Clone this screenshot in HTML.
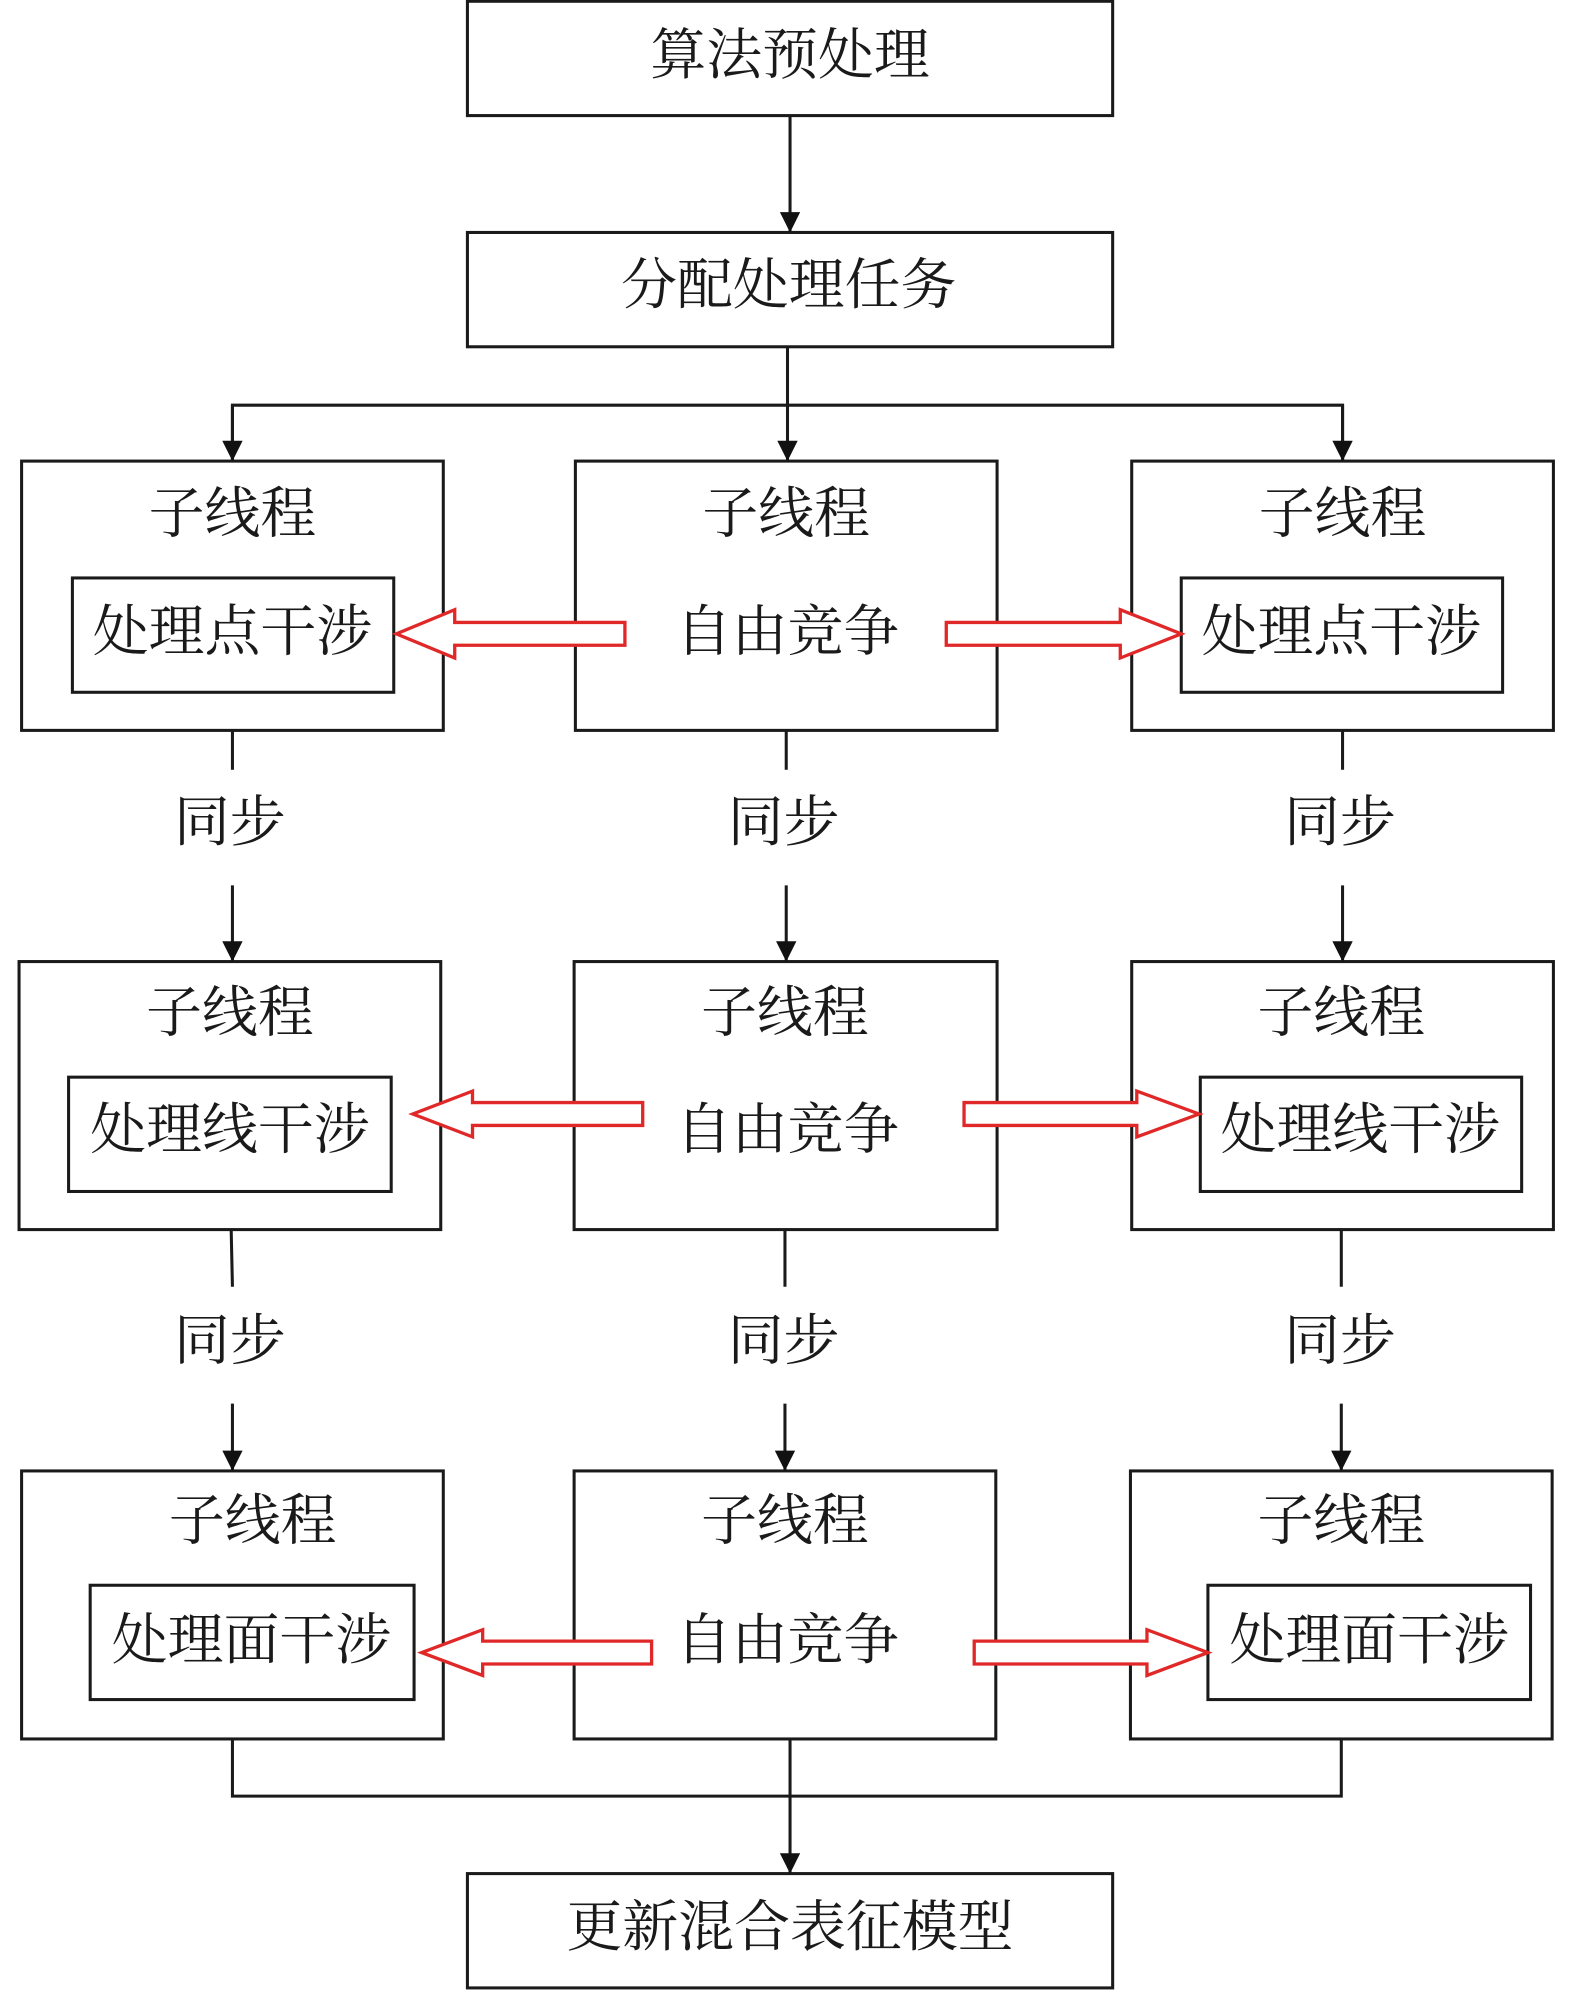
<!DOCTYPE html>
<html><head><meta charset="utf-8"><style>
html,body{margin:0;padding:0;background:#fff;}
svg{display:block;}
text{font-family:"Liberation Serif","Noto Serif CJK SC",serif;font-size:44px;fill:#1a1a1a;text-anchor:middle;dominant-baseline:central;}
</style></head><body>
<svg width="1575" height="1993" viewBox="0 0 1240 1569" preserveAspectRatio="none" xmlns="http://www.w3.org/2000/svg">
<defs><marker id="a" viewBox="0 0 10 10" refX="10" refY="5" markerWidth="28" markerHeight="16" markerUnits="userSpaceOnUse" orient="auto"><path d="M0,0L10,5L0,10z" fill="#111"/></marker></defs>
<g fill="none" stroke="#1a1a1a" stroke-width="2.4">
<rect x="368" y="1" width="508" height="90"/>
<rect x="368" y="183" width="508" height="90"/>
<rect x="17" y="363" width="332" height="212"/>
<rect x="453" y="363" width="332" height="212"/>
<rect x="891" y="363" width="332" height="212"/>
<rect x="57" y="455" width="253" height="90"/>
<rect x="930" y="455" width="253" height="90"/>
<rect x="15" y="757" width="332" height="211"/>
<rect x="452" y="757" width="333" height="211"/>
<rect x="891" y="757" width="332" height="211"/>
<rect x="54" y="848" width="254" height="90"/>
<rect x="945" y="848" width="253" height="90"/>
<rect x="17" y="1158" width="332" height="211"/>
<rect x="452" y="1158" width="332" height="211"/>
<rect x="890" y="1158" width="332" height="211"/>
<rect x="71" y="1248" width="255" height="90"/>
<rect x="951" y="1248" width="254" height="90"/>
<rect x="368" y="1475" width="508" height="90"/>
<line x1="622" y1="91" x2="622" y2="183" marker-end="url(#a)"/>
<line x1="620" y1="273" x2="620" y2="319"/>
<polyline points="183,363 183,319 1057,319 1057,363" fill="none"/>
<line x1="183" y1="319" x2="183" y2="363" marker-end="url(#a)"/>
<line x1="620" y1="319" x2="620" y2="363" marker-end="url(#a)"/>
<line x1="1057" y1="319" x2="1057" y2="363" marker-end="url(#a)"/>
<line x1="183" y1="575" x2="183" y2="606"/><line x1="183" y1="697" x2="183" y2="757" marker-end="url(#a)"/>
<line x1="619" y1="575" x2="619" y2="606"/><line x1="619" y1="697" x2="619" y2="757" marker-end="url(#a)"/>
<line x1="1057" y1="575" x2="1057" y2="606"/><line x1="1057" y1="697" x2="1057" y2="757" marker-end="url(#a)"/>
<line x1="182" y1="968" x2="183" y2="1013"/><line x1="183" y1="1105" x2="183" y2="1158" marker-end="url(#a)"/>
<line x1="618" y1="968" x2="618" y2="1013"/><line x1="618" y1="1105" x2="618" y2="1158" marker-end="url(#a)"/>
<line x1="1056" y1="968" x2="1056" y2="1013"/><line x1="1056" y1="1105" x2="1056" y2="1158" marker-end="url(#a)"/>
<polyline points="183,1369 183,1414 1056,1414 1056,1369"/>
<line x1="622" y1="1369" x2="622" y2="1475" marker-end="url(#a)"/>
</g>
<g fill="#fff" stroke="#e02828" stroke-width="2.6">
<polygon points="492,490 358,490 358,480 312,499 358,518 358,508 492,508"/>
<polygon points="745,490 882,490 882,480 930,499 882,518 882,508 745,508"/>
<polygon points="506,868 372,868 372,859 325,877 372,895 372,886 506,886"/>
<polygon points="759,868 895,868 895,859 944,877 895,895 895,886 759,886"/>
<polygon points="513,1292 380,1292 380,1283 332,1301 380,1319 380,1310 513,1310"/>
<polygon points="767,1292 903,1292 903,1283 951,1301 903,1319 903,1310 767,1310"/>
</g>
<text x="622" y="44">算法预处理</text>
<text x="621" y="225">分配处理任务</text>
<text x="183" y="405">子线程</text><text x="619" y="405">子线程</text><text x="1057" y="405">子线程</text>
<text x="183" y="498">处理点干涉</text><text x="620" y="498">自由竞争</text><text x="1056" y="498">处理点干涉</text>
<text x="181" y="648">同步</text><text x="617" y="648">同步</text><text x="1055" y="648">同步</text>
<text x="181" y="798">子线程</text><text x="618" y="798">子线程</text><text x="1056" y="798">子线程</text>
<text x="181" y="890">处理线干涉</text><text x="620" y="890">自由竞争</text><text x="1071" y="890">处理线干涉</text>
<text x="181" y="1056">同步</text><text x="617" y="1056">同步</text><text x="1055" y="1056">同步</text>
<text x="199" y="1198">子线程</text><text x="618" y="1198">子线程</text><text x="1056" y="1198">子线程</text>
<text x="198" y="1292">处理面干涉</text><text x="620" y="1292">自由竞争</text><text x="1078" y="1292">处理面干涉</text>
<text x="622" y="1518">更新混合表征模型</text>
</svg>
</body></html>
